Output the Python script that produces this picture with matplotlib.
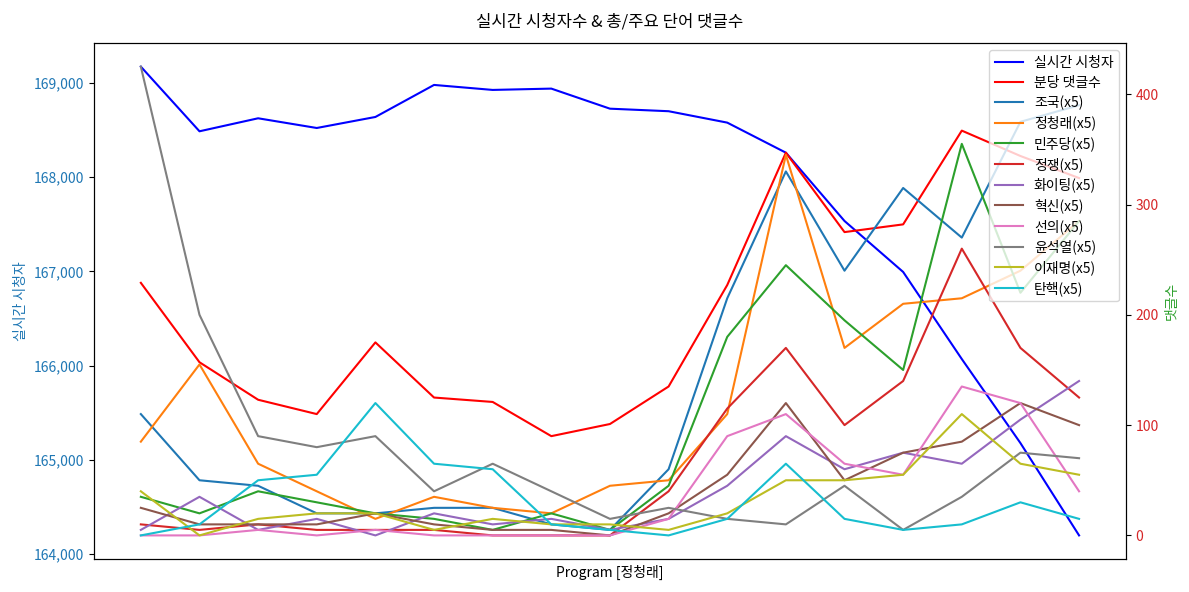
import matplotlib
matplotlib.use("Agg")
import matplotlib.pyplot as plt
import matplotlib.ticker as mticker

plt.rcParams['font.family'] = ['Noto Sans CJK KR', 'DejaVu Sans']
plt.rcParams['axes.unicode_minus'] = False

x = list(range(17))

viewers = [169173, 168487, 168625, 168522, 168639, 168979, 168926, 168940, 168727,
           168700, 168579, 168260, 167535, 166994, 166070, 165178, 164198]
comments = [229, 157, 123, 110, 175, 125, 121, 90, 101, 135, 227, 347, 275, 282, 367, 344, 324]

keywords = ['조국', '정청래', '민주당', '정쟁', '화이팅', '혁신', '선의', '윤석열', '이재명', '탄핵']
k_joguk = [110, 50, 45, 20, 20, 25, 25, 10, 5, 60, 215, 330, 240, 315, 270, 375, 390]
k_jcr = [85, 155, 65, 40, 15, 35, 25, 20, 45, 50, 110, 345, 170, 210, 215, 240, 285]
k_dem = [35, 20, 40, 30, 20, 15, 5, 20, 5, 45, 180, 245, 195, 150, 355, 220, 285]
k_fight = [10, 5, 10, 5, 5, 5, 0, 0, 0, 40, 115, 170, 100, 140, 260, 170, 125]
k_cheer = [5, 35, 5, 15, 0, 20, 10, 15, 5, 15, 45, 90, 60, 75, 65, 105, 140]
k_innov = [25, 10, 10, 10, 20, 10, 5, 5, 0, 20, 55, 120, 50, 75, 85, 120, 100]
k_good = [0, 0, 5, 0, 5, 0, 0, 0, 0, 15, 90, 110, 65, 55, 135, 120, 40]
k_yoon = [425, 200, 90, 80, 90, 40, 65, 40, 15, 25, 15, 10, 45, 5, 35, 75, 70]
k_lee = [40, 0, 15, 20, 20, 5, 15, 10, 10, 5, 20, 50, 50, 55, 110, 65, 55]
k_imp = [0, 10, 50, 55, 120, 65, 60, 10, 5, 0, 15, 65, 15, 5, 10, 30, 15]
k_series = [k_joguk, k_jcr, k_dem, k_fight, k_cheer, k_innov, k_good, k_yoon, k_lee, k_imp]
k_colors = ['tab:blue', 'tab:orange', 'tab:green', 'tab:red', 'tab:purple',
            'tab:brown', 'tab:pink', 'tab:gray', 'tab:olive', 'tab:cyan']

fig, ax1 = plt.subplots(figsize=(11.89, 5.92), dpi=100)
fig.subplots_adjust(left=0.079, right=0.947, top=0.927, bottom=0.056)
l1, = ax1.plot(x, viewers, color='blue', lw=1.5, label='실시간 시청자')
ax1.set_ylabel('실시간 시청자', color='tab:blue')
ax1.tick_params(axis='y', labelcolor='tab:blue')
ax1.yaxis.set_major_formatter(mticker.FuncFormatter(lambda v, p: f'{int(v):,}'))
ax1.set_xticks([])
ax1.set_xlabel('Program [정청래]')

ax2 = ax1.twinx()
l2, = ax2.plot(x, comments, color='red', lw=1.5, label='분당 댓글수')
handles = [l1, l2]
for name, vals, c in zip(keywords, k_series, k_colors):
    h, = ax2.plot(x, vals, color=c, lw=1.5, label=f'{name}(x5)')
    handles.append(h)
ax2.set_ylabel('댓글수', color='tab:green')
ax2.tick_params(axis='y', labelcolor='tab:red')
ax2.legend(handles=handles, loc='upper right', fontsize=10, labelspacing=0.42)

plt.title('실시간 시청자수 & 총/주요 단어 댓글수', pad=12)
fig.savefig('out.png', dpi=100)
